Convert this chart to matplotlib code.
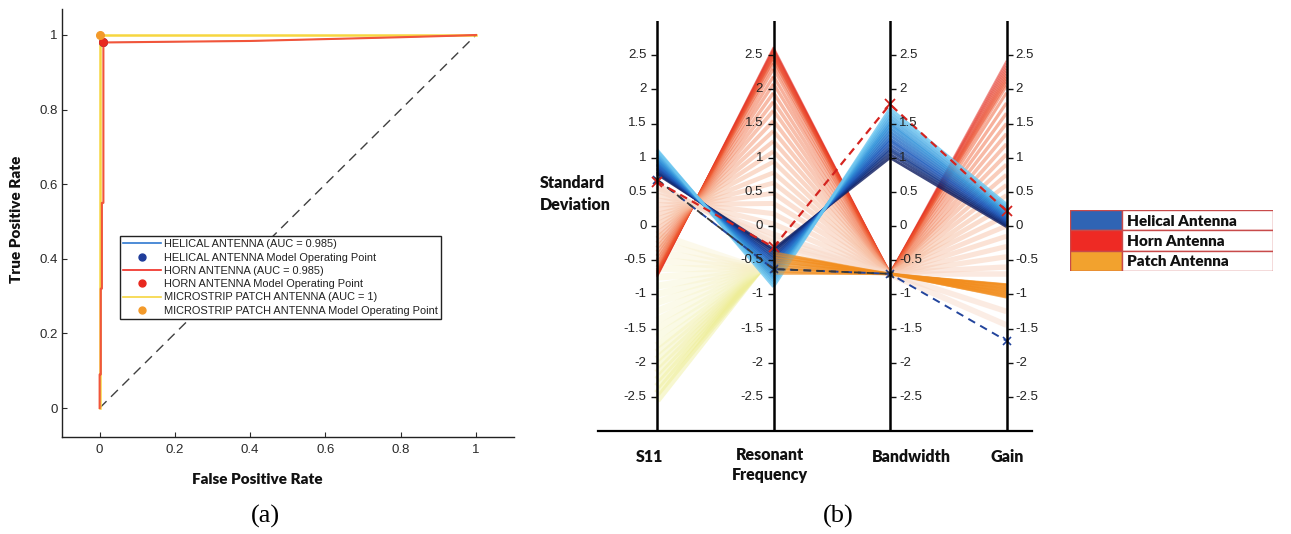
import numpy as np
import matplotlib.pyplot as plt
from matplotlib.colors import LinearSegmentedColormap
from matplotlib.collections import LineCollection
from matplotlib.lines import Line2D
from matplotlib.patches import Rectangle

W, H = 1291, 534

# ---------------- (a) ROC data ----------------
helical_fpr = [0, 0, 0.003, 0.003, 0.006, 0.006, 0.01, 0.01, 0.2, 0.4, 0.6, 0.8, 0.94, 1]
helical_tpr = [0, 0.09, 0.09, 0.32, 0.32, 0.55, 0.55, 0.98, 0.982, 0.984, 0.989, 0.994, 0.998, 1]
horn_fpr = [0, 0, 0.003, 0.003, 0.006, 0.006, 0.01, 0.01, 0.2, 0.4, 0.6, 0.8, 0.94, 1]
horn_tpr = [0, 0.09, 0.09, 0.32, 0.32, 0.55, 0.55, 0.98, 0.982, 0.984, 0.989, 0.994, 0.998, 1]
patch_fpr = [0, 0, 1]
patch_tpr = [0, 1, 1]
op_fpr = [0.01, 0.01, 0.0]      # helical, horn, patch
op_tpr = [0.98, 0.98, 1.0]
curve_labels = ['HELICAL ANTENNA (AUC = 0.985)', 'HORN ANTENNA (AUC = 0.985)',
                'MICROSTRIP PATCH ANTENNA (AUC = 1)']
op_labels = ['HELICAL ANTENNA Model Operating Point', 'HORN ANTENNA Model Operating Point',
             'MICROSTRIP PATCH ANTENNA Model Operating Point']

# ---------------- (b) parallel coordinates data ----------------
axis_names = ['S11', 'Resonant\nFrequency', 'Bandwidth', 'Gain']
par_ticks = [-2.5, -2, -1.5, -1, -0.5, 0, 0.5, 1, 1.5, 2, 2.5]

horn_s11 = [-0.75, -0.74, -0.73, -0.72, -0.71, -0.70, -0.69, -0.68, -0.66, -0.64, -0.60,
            -0.55, -0.50, -0.44, -0.38, -0.32, -0.25, -0.18, -0.11, -0.04, 0.03, 0.10,
            0.17, 0.24, 0.31, 0.38, 0.45, 0.52, 0.60, 0.56, 0.58]
horn_res = [2.62, 2.60, 2.58, 2.56, 2.54, 2.51, 2.49, 2.47, 2.43, 2.38, 2.30,
            2.19, 2.08, 1.95, 1.82, 1.69, 1.54, 1.39, 1.24, 1.09, 0.94, 0.78,
            0.63, 0.48, 0.33, 0.18, 0.03, -0.12, -0.30, -0.20, -0.25]
horn_bw = [-0.70, -0.71, -0.70, -0.69, -0.70, -0.71, -0.70, -0.69, -0.70, -0.70, -0.71,
           -0.70, -0.69, -0.70, -0.70, -0.71, -0.70, -0.69, -0.70, -0.70, -0.71, -0.70,
           -0.69, -0.70, -0.70, -0.71, -0.70, -0.69, -0.70, -0.70, -0.71]
horn_gain = [2.42, 2.38, 2.34, 2.30, 2.26, 2.22, 2.18, 2.14, 2.10, 2.05, 1.95,
             1.80, 1.65, 1.50, 1.35, 1.20, 1.05, 0.90, 0.75, 0.60, 0.45, 0.30,
             0.15, 0.00, -0.15, -0.30, -0.45, -0.60, -0.70, -1.25, -1.45]

hel_s11 = [0.76, 0.78, 0.80, 0.83, 0.85, 0.88, 0.90, 0.92, 0.95, 0.97, 1.00, 1.02, 1.05, 1.07, 1.10, 1.12]
hel_res = [-0.34, -0.37, -0.41, -0.45, -0.48, -0.52, -0.55, -0.59, -0.63, -0.66, -0.70, -0.74,
           -0.77, -0.81, -0.85, -0.89]
hel_bw = [1.00, 1.05, 1.10, 1.14, 1.19, 1.24, 1.28, 1.33, 1.38, 1.43, 1.48, 1.52, 1.57, 1.62, 1.67, 1.72]
hel_gain = [-0.01, 0.01, 0.03, 0.05, 0.07, 0.09, 0.11, 0.13, 0.15, 0.17, 0.19, 0.21, 0.24, 0.26, 0.29, 0.32]

patch_s11 = [-2.55, -2.45, -2.35, -2.25, -2.15, -2.05, -1.95, -1.85, -1.75, -1.62, -1.50,
             -1.38, -1.25, -1.12, -1.00, -0.88, -0.75, -0.62, -0.50, -0.38, -0.25, -0.12]
patch_res = [-0.38, -0.39, -0.41, -0.42, -0.43, -0.45, -0.46, -0.47, -0.49, -0.50, -0.52,
             -0.53, -0.55, -0.57, -0.58, -0.60, -0.62, -0.63, -0.65, -0.67, -0.68, -0.70]
patch_bw = [-0.70, -0.71, -0.70, -0.69, -0.70, -0.71, -0.70, -0.69, -0.70, -0.70, -0.71,
            -0.70, -0.69, -0.70, -0.70, -0.71, -0.70, -0.69, -0.70, -0.70, -0.71, -0.70]
patch_gain = [-1.05, -1.04, -1.03, -1.02, -1.01, -1.00, -0.99, -0.98, -0.97, -0.96, -0.95,
              -0.94, -0.93, -0.92, -0.91, -0.90, -0.89, -0.88, -0.87, -0.86, -0.855, -0.85]

dash_red = [0.65, -0.31, 1.78, 0.22]
dash_blue = [0.68, -0.63, -0.70, -1.68]
dash_gray = [0.68, -0.63, -0.70]

legend_names = ['Helical Antenna', 'Horn Antenna', 'Patch Antenna']
legend_colors = ['#2f64b4', '#ee2a24', '#f2a22e']

BOLD = dict(family='Lato', weight='heavy', color='#111111')
plt.rcParams['font.family'] = 'Liberation Sans'

fig = plt.figure(figsize=(W / 100, H / 100), dpi=100)


def ftext(xp, yp, s, **kw):
    fig.text(xp / W, 1 - yp / H, s, **kw)


# ================= (a) =================
ax = fig.add_axes([62 / W, 1 - 437 / H, 451.6 / W, 428 / H])
ax.plot([0, 1], [0, 1], color='#404040', lw=1.0, dashes=(7, 4.5))
ax.plot(patch_fpr, patch_tpr, color='#f6d640', lw=1.8)
ax.plot(helical_fpr, helical_tpr, color='#2f78d0', lw=0.6)
ax.plot(horn_fpr, horn_tpr, color='#f2553a', lw=1.5)
op_colors = ['#1f3c9a', '#e8281e', '#f39a2a']
for i in range(3):
    ax.plot(op_fpr[i], op_tpr[i], 'o', ms=5.5, color=op_colors[i], zorder=5)
ax.set_xlim(-0.1, 1.1)
ax.set_ylim(-0.0777, 1.0697)
ax.set_xticks([0, 0.2, 0.4, 0.6, 0.8, 1])
ax.set_yticks([0, 0.2, 0.4, 0.6, 0.8, 1])
ax.set_xticklabels(['0', '0.2', '0.4', '0.6', '0.8', '1'])
ax.set_yticklabels(['0', '0.2', '0.4', '0.6', '0.8', '1'])
ax.tick_params(direction='in', length=3.5, width=0.8, labelsize=9.5, colors='#2a2a2a')
ax.tick_params(axis='x', pad=5)
ax.tick_params(axis='y', pad=3)
for s in ['top', 'right']:
    ax.spines[s].set_visible(False)
for s in ['left', 'bottom']:
    ax.spines[s].set_linewidth(1.0)
    ax.spines[s].set_color('#222222')

line_cols = ['#2f78d0', '#f02a20', '#f6d640']
handles, labels = [], []
for i in range(3):
    handles.append(Line2D([], [], color=line_cols[i], lw=1.2))
    labels.append(curve_labels[i])
    handles.append(Line2D([], [], ls='none', marker='o', ms=5, color=op_colors[i]))
    labels.append(op_labels[i])
leg = ax.legend(handles, labels, loc='upper left', bbox_to_anchor=(120 / W, 1 - 236 / H),
                bbox_transform=fig.transFigure, borderaxespad=0, fontsize=7.9,
                labelspacing=0.3, handlelength=3.4, handletextpad=0.3, borderpad=0.3,
                fancybox=False, framealpha=1)
leg.get_frame().set_edgecolor('#222222')
leg.get_frame().set_linewidth(1.0)
for t in leg.get_texts():
    t.set_color('#222222')

ftext(257.5, 480, 'False Positive Rate', ha='center', va='center', fontsize=11, **BOLD)
ftext(17, 219, 'True Positive Rate', ha='center', va='center', rotation=90, fontsize=11, **BOLD)
ftext(265, 516, '(a)', ha='center', va='center', fontsize=19, family='Liberation Serif')

# ================= (b) =================
axis_x = [1, 2, 3, 4]
bx = fig.add_axes([598 / W, 1 - 431 / H, 434 / W, 410 / H])
bx.set_xlim(1 - 59 / 116.5, 1 + 375 / 116.5)
bx.set_ylim(-3, 3)
bx.set_xticks([])
bx.set_yticks([])
for s in ['top', 'right', 'left']:
    bx.spines[s].set_visible(False)
bx.spines['bottom'].set_linewidth(1.6)


def draw_class(cols, seg_colors, lws, alpha):
    vals = np.column_stack(cols)
    for k in range(len(axis_x) - 1):
        segs = [[(axis_x[k], r[k]), (axis_x[k + 1], r[k + 1])] for r in vals]
        lc = LineCollection(segs, colors=seg_colors[k], linewidths=lws[k], alpha=alpha)
        bx.add_collection(lc)


yel_cmap = LinearSegmentedColormap.from_list('yel', ['#eaea7a', '#f5f3bf', '#f8efc8'])
n = len(patch_s11)
yc = [yel_cmap(i / (n - 1)) for i in range(n)]
oc = ['#f28e1e'] * n
draw_class([patch_s11, patch_res, patch_bw, patch_gain], [yc, oc, oc], [5.0, 1.2, 1.2], 0.35)

horn_cmap = LinearSegmentedColormap.from_list('horn', ['#e2241a', '#ef5a30', '#f7b898', '#f9dccc'])
n = len(horn_s11)
hc = [horn_cmap(i / (n - 1)) for i in range(n)]
hw = [1.2 + 3.0 * i / (n - 1) for i in range(n)]
draw_class([horn_s11, horn_res, horn_bw, horn_gain], [hc, hc, hc], [hw, hw, hw], 0.5)

hel_cmap = LinearSegmentedColormap.from_list('hel', ['#0b1a5e', '#1d56b8', '#2f8fd8', '#6cc6f0'])
n = len(hel_s11)
bc = [hel_cmap(i / (n - 1)) for i in range(n)]
draw_class([hel_s11, hel_res, hel_bw, hel_gain], [bc, bc, bc], [2.0, 2.0, 2.0], 0.8)

# patch band between resonant frequency and gain sits on top
draw_class([patch_s11, patch_res, patch_bw, patch_gain], [['none'] * n, oc, oc],
           [0, 1.2, 1.2], 0.45)

bx.plot(axis_x, dash_blue, color='#22449c', lw=1.4, dashes=(4, 3), marker='x', ms=6, mew=1.2)
bx.plot(axis_x[:3], dash_gray, color='#3a3a3a', lw=1.3, dashes=(4, 3), marker='x', ms=5, mew=1)
bx.plot(axis_x, dash_red, color='#d42420', lw=1.6, dashes=(3.5, 2.5), marker='x', ms=6.5, mew=1.3)

for i, x in enumerate(axis_x):
    bx.axvline(x, color='black', lw=1.8, zorder=6)
    left = i < 2
    bx.plot([x] * len(par_ticks), par_ticks, ls='none', marker=0 if left else 1,
            ms=4.5, mew=1.0, color='#111111', zorder=6)
    for t in par_ticks:
        bx.annotate(f'{t:g}', (x, t), xytext=(-7.5 if left else 6.5, 0), textcoords='offset points',
                    ha='right' if left else 'left', va='center', fontsize=9.5, color='#222222')

ftext(540, 194, 'Standard\nDeviation', ha='left', va='center', fontsize=11.5, linespacing=1.5, **BOLD)
name_pos = [(650, 457), (770, 465), (911, 457), (1007, 457)]
for (xp, yp), name in zip(name_pos, axis_names):
    ftext(xp, yp, name, ha='center', va='center', fontsize=11.5, linespacing=1.3, **BOLD)
ftext(838, 516, '(b)', ha='center', va='center', fontsize=19, family='Liberation Serif')

# legend table
lx = fig.add_axes([1070 / W, 1 - 271 / H, 203 / W, 61 / H])
lx.set_xlim(0, 1)
lx.set_ylim(0, 3)
lx.axis('off')
for i, (name, c) in enumerate(zip(legend_names, legend_colors)):
    y0 = 2 - i
    lx.add_patch(Rectangle((0, y0), 0.257, 1, facecolor=c, edgecolor='#c84a4a', lw=1.0))
    lx.add_patch(Rectangle((0.257, y0), 0.743, 1, facecolor='white', edgecolor='#c84a4a', lw=1.0))
    lx.text(0.28, y0 + 0.45, name, ha='left', va='center', fontsize=11, **BOLD)

fig.savefig('out.png', dpi=100)
